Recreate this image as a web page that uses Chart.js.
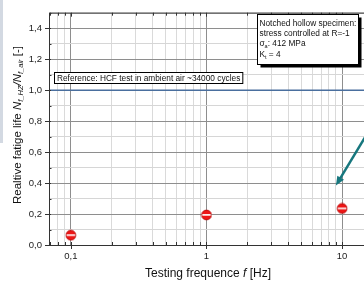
<!DOCTYPE html>
<html>
<head>
<meta charset="utf-8">
<script src="https://cdn.jsdelivr.net/npm/chart.js@4/dist/chart.umd.min.js"></script>
<style>
  html, body { margin: 0; padding: 0; background: #fff; overflow: hidden; width: 364px; height: 282px; }
  #grafico { display: block; }
</style>
</head>
<body>
<canvas id="grafico" width="372" height="282"></canvas>
<script>
// datos
const frecuencias = [0.1, 1, 10];
const vidaRelativa = [0.063, 0.194, 0.236];
const valorReferencia = 1.0;
const etiquetasX = [0.1, 1, 10];
const etiquetasY = [0, 0.2, 0.4, 0.6, 0.8, 1.0, 1.2, 1.4];
const textoReferencia = 'Reference: HCF test in ambient air ~34000 cycles';
const flechaInicio = { x: 15, y: 0.706 };
const flechaFin = { x: 9.0, y: 0.384 };

const fuente = '"Liberation Sans", Arial, sans-serif';

function esDecada(v) {
  const l = Math.log10(v);
  return Math.abs(l - Math.round(l)) < 1e-6;
}

function formatoComa(v) {
  return String(v).replace('.', ',');
}

// marcador: circulo rojo con franja blanca
function crearMarcador() {
  const c = document.createElement('canvas');
  c.width = 12; c.height = 12;
  const g = c.getContext('2d');
  g.beginPath();
  g.arc(6, 6, 4.9, 0, Math.PI * 2);
  g.fillStyle = '#ee1515';
  g.fill();
  g.save();
  g.clip();
  g.fillStyle = '#ffffff';
  g.fillRect(0, 5.1, 12, 1.6);
  g.restore();
  g.lineWidth = 0.8;
  g.strokeStyle = '#b00000';
  g.stroke();
  return c;
}

function dibujarSegmentos(ctx, segmentos, cx, cy, rotado) {
  let total = 0;
  segmentos.forEach(s => {
    ctx.font = s.font;
    s.w = ctx.measureText(s.t).width;
    total += s.w;
  });
  ctx.save();
  ctx.translate(cx, cy);
  if (rotado) ctx.rotate(-Math.PI / 2);
  let x = -total / 2;
  ctx.textBaseline = 'middle';
  ctx.textAlign = 'left';
  ctx.fillStyle = '#111';
  segmentos.forEach(s => {
    ctx.font = s.font;
    ctx.fillText(s.t, x, s.dy || 0);
    x += s.w;
  });
  ctx.restore();
}

const decoracion = {
  id: 'decoracion',
  beforeDatasetsDraw(chart) {
    const ctx = chart.ctx;
    const area = chart.chartArea;
    const sy = chart.scales.y;
    // linea de referencia
    const yRef = sy.getPixelForValue(valorReferencia);
    ctx.save();
    ctx.strokeStyle = '#4a6f9e';
    ctx.lineWidth = 1.5;
    ctx.beginPath();
    ctx.moveTo(area.left, yRef);
    ctx.lineTo(area.right, yRef);
    ctx.stroke();
    ctx.restore();
  },
  afterDraw(chart) {
    const ctx = chart.ctx;
    const area = chart.chartArea;
    const sx = chart.scales.x;
    const sy = chart.scales.y;

    ctx.save();
    // franja gris a la izquierda
    ctx.fillStyle = '#d3d9e2';
    ctx.fillRect(0, 0, 3, 143);

    // marco
    ctx.strokeStyle = '#333';
    ctx.lineWidth = 1;
    ctx.beginPath();
    ctx.moveTo(area.left + 0.5, area.top + 0.5);
    ctx.lineTo(area.left + 0.5, area.bottom + 0.5);
    ctx.lineTo(area.right, area.bottom + 0.5);
    ctx.moveTo(area.left, area.top + 0.5);
    ctx.lineTo(area.right, area.top + 0.5);
    ctx.stroke();

    // marcas de los ejes
    ctx.beginPath();
    sx.ticks.forEach(t => {
      const px = Math.round(sx.getPixelForValue(t.value)) + 0.5;
      const mayor = esDecada(t.value);
      ctx.moveTo(px, area.bottom + (mayor ? 4 : 0));
      ctx.lineTo(px, area.bottom - 3);
      ctx.moveTo(px, area.top);
      ctx.lineTo(px, area.top + (mayor ? 4 : 3));
    });
    sy.ticks.forEach((t, i) => {
      const py = Math.round(sy.getPixelForValue(t.value)) + 0.5;
      const mayor = i % 2 === 0;
      ctx.moveTo(area.left - (mayor ? 4 : 0), py);
      ctx.lineTo(area.left + (mayor ? 2 : 2.5), py);
    });
    ctx.stroke();

    // caja de referencia
    ctx.font = '8.3px ' + fuente;
    const wRef = ctx.measureText(textoReferencia).width;
    ctx.fillStyle = '#fff';
    ctx.fillRect(54.5, 72.5, wRef + 5, 11);
    ctx.strokeStyle = '#000';
    ctx.strokeRect(54.5, 72.5, wRef + 5, 11);
    ctx.fillStyle = '#111';
    ctx.textBaseline = 'middle';
    ctx.fillText(textoReferencia, 57, 78.5);

    // caja del especimen
    const bx = 257.5, by = 14.5, bw = 101, bh = 50;
    ctx.fillStyle = '#000';
    ctx.fillRect(bx + 3, by + 3, bw, bh);
    ctx.fillStyle = '#fff';
    ctx.fillRect(bx, by, bw, bh);
    ctx.strokeStyle = '#000';
    ctx.strokeRect(bx, by, bw, bh);
    ctx.fillStyle = '#111';
    ctx.font = '8.3px ' + fuente;
    ctx.fillText('Notched hollow specimen:', bx + 2, by + 9);
    ctx.fillText('stress controlled at R=-1', bx + 2, by + 19);
    ctx.fillText('\u03C3', bx + 2, by + 29);
    let w = ctx.measureText('\u03C3').width;
    ctx.font = '5.5px ' + fuente;
    ctx.fillText('a', bx + 2 + w, by + 31.5);
    w += ctx.measureText('a').width;
    ctx.font = '8.3px ' + fuente;
    ctx.fillText(': 412 MPa', bx + 2 + w, by + 29);
    ctx.fillText('K', bx + 2, by + 40);
    w = ctx.measureText('K').width;
    ctx.font = '5.5px ' + fuente;
    ctx.fillText('t', bx + 2 + w, by + 42.5);
    w += ctx.measureText('t').width;
    ctx.font = '8.3px ' + fuente;
    ctx.fillText(' = 4', bx + 2 + w, by + 40);

    // flecha
    const x0 = sx.getPixelForValue(flechaInicio.x), y0 = sy.getPixelForValue(flechaInicio.y);
    const x1 = sx.getPixelForValue(flechaFin.x), y1 = sy.getPixelForValue(flechaFin.y);
    const ang = Math.atan2(y1 - y0, x1 - x0);
    ctx.strokeStyle = '#17777e';
    ctx.fillStyle = '#17777e';
    ctx.lineWidth = 2.5;
    ctx.beginPath();
    ctx.moveTo(x0, y0);
    ctx.lineTo(x1 - 6 * Math.cos(ang), y1 - 6 * Math.sin(ang));
    ctx.stroke();
    ctx.beginPath();
    ctx.moveTo(x1, y1);
    ctx.lineTo(x1 - 10 * Math.cos(ang - 0.4), y1 - 10 * Math.sin(ang - 0.4));
    ctx.lineTo(x1 - 10 * Math.cos(ang + 0.4), y1 - 10 * Math.sin(ang + 0.4));
    ctx.closePath();
    ctx.fill();

    // titulos de los ejes
    const normal = '12px ' + fuente;
    const ital = 'italic 12px ' + fuente;
    const sub = 'italic 7.5px ' + fuente;
    dibujarSegmentos(ctx, [
      { t: 'Testing frequence ', font: normal },
      { t: 'f', font: ital },
      { t: ' [Hz]', font: normal }
    ], 208, 274, false);
    dibujarSegmentos(ctx, [
      { t: 'Realtive fatige life ', font: '11.5px ' + fuente },
      { t: 'N', font: 'italic 11.5px ' + fuente },
      { t: 'f_HZ', font: sub, dy: 3 },
      { t: '/N', font: 'italic 11.5px ' + fuente },
      { t: 'f_air', font: sub, dy: 3 },
      { t: ' [-]', font: '11.5px ' + fuente }
    ], 18, 125, true);
    ctx.restore();
  }
};

new Chart(document.getElementById('grafico'), {
  type: 'scatter',
  data: {
    datasets: [{
      data: frecuencias.map((f, i) => ({ x: f, y: vidaRelativa[i] })),
      pointStyle: crearMarcador(),
      pointRadius: 5,
      showLine: false
    }]
  },
  options: {
    responsive: false,
    animation: false,
    layout: { padding: { top: 8, right: 4, left: 0, bottom: 0 } },
    plugins: { legend: { display: false }, tooltip: { enabled: false } },
    scales: {
      x: {
        type: 'logarithmic',
        min: 0.069,
        max: 15,
        afterBuildTicks: scale => {
          const lista = [];
          [-2, -1, 0, 1].forEach(e => {
            for (let m = 1; m <= 9; m++) {
              const v = Number((m * Math.pow(10, e)).toFixed(4));
              if (v >= 0.07 && v <= 15) lista.push({ value: v });
            }
          });
          scale.ticks = lista;
        },
        afterFit: scale => { scale.height = 37; },
        ticks: {
          autoSkip: false,
          maxRotation: 0,
          padding: 6,
          color: '#222',
          font: { family: fuente, size: 9.5 },
          callback: v => etiquetasX.includes(v) ? formatoComa(v) : ''
        },
        grid: {
          drawTicks: false,
          color: c => c.tick && esDecada(c.tick.value) ? '#8e8e8e' : '#dadada',
          lineWidth: 1
        },
        border: { display: false }
      },
      y: {
        min: 0,
        max: 1.5,
        afterBuildTicks: scale => {
          const lista = [];
          for (let i = 0; i <= 15; i++) lista.push({ value: i / 10 });
          scale.ticks = lista;
        },
        afterFit: scale => { scale.width = 49; },
        ticks: {
          autoSkip: false,
          padding: 7,
          color: '#222',
          font: { family: fuente, size: 9.5 },
          callback: v => {
            const e = etiquetasY.find(t => Math.abs(t - v) < 1e-6);
            return e !== undefined ? e.toFixed(1).replace('.', ',') : '';
          }
        },
        grid: {
          drawTicks: false,
          color: c => c.tick && Math.round(c.tick.value * 10) % 2 === 0 ? '#8e8e8e' : '#d6d6d6',
          lineWidth: 1
        },
        border: { display: false }
      }
    }
  },
  plugins: [decoracion]
});
</script>
</body>
</html>
